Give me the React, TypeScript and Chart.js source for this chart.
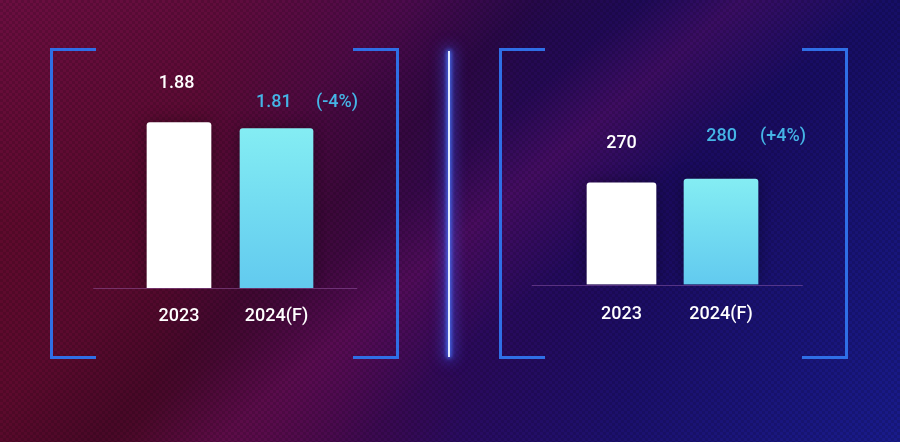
import React, { useEffect, useRef } from "react";
import { Chart, registerables } from "chart.js";

Chart.register(...registerables);

// ---- data ----
const categories = ["2023", "2024(F)"];
const leftValues = [1.88, 1.81];
const rightValues = [270, 280];
const leftChange = "(-4%)";
const rightChange = "(+4%)";
const leftDecimals = 2;
const rightDecimals = 0;
const leftMax = 2.2;
const rightMax = 500;

const FONT = "Roboto, 'Open Sans', sans-serif";
const WEIGHT = 500;
const WHITE = "#ffffff";
const CYAN_TEXT = "#45b5e6";

type PanelCfg = {
  values: number[];
  decimals: number;
  change: string;
  max: number;
  padding: { left: number; right: number; top: number };
  axisHeight: number;
  tickPadding: number;
  barWidths: number[];
  labelOffsets: number[][]; // [dx, dy] relative to bar top center
  changeDx: number;
  baseExt: [number, number];
};

function makeChart(canvas: HTMLCanvasElement, cfg: PanelCfg) {
  const datasets = cfg.values.map((v, i) => ({
    label: categories[i],
    data: cfg.values.map((_, j) => (j === i ? v : null)),
    grouped: false,
    barThickness: cfg.barWidths[i],
    borderRadius: { topLeft: 3, topRight: 3, bottomLeft: 0, bottomRight: 0 },
    borderSkipped: "start",
    backgroundColor:
      i === 0
        ? WHITE
        : (c: any) => {
            const chart = c.chart;
            const y = chart.scales && chart.scales.y;
            if (!y || !chart.chartArea) return "#6fd8f0";
            const top = y.getPixelForValue(v);
            const bottom = y.getPixelForValue(0);
            const g = chart.ctx.createLinearGradient(0, top, 0, bottom);
            g.addColorStop(0, "#84edf3");
            g.addColorStop(0.5, "#72dbf1");
            g.addColorStop(1, "#62caef");
            return g;
          },
  }));

  const decor = {
    id: "decor",
    beforeDatasetsDraw(chart: any) {
      const { ctx, chartArea, scales } = chart;
      const y0 = Math.round(scales.y.getPixelForValue(0)) + 0.5;
      ctx.save();
      ctx.strokeStyle = "rgba(160,100,180,0.45)";
      ctx.lineWidth = 1;
      ctx.beginPath();
      ctx.moveTo(chartArea.left - cfg.baseExt[0], y0);
      ctx.lineTo(chartArea.right + cfg.baseExt[1], y0);
      ctx.stroke();
      ctx.restore();
      ctx.save();
      ctx.shadowColor = "rgba(0,0,0,0.35)";
      ctx.shadowBlur = 16;
    },
    afterDatasetsDraw(chart: any) {
      const { ctx } = chart;
      ctx.restore();
      ctx.save();
      ctx.font = `${WEIGHT} 18px ${FONT}`;
      ctx.textAlign = "center";
      ctx.textBaseline = "middle";
      cfg.values.forEach((v, i) => {
        const bar = chart.getDatasetMeta(i).data[i];
        if (!bar) return;
        const [dx, dy] = cfg.labelOffsets[i];
        ctx.fillStyle = i === 0 ? WHITE : CYAN_TEXT;
        ctx.fillText(v.toFixed(cfg.decimals), bar.x + dx, bar.y - dy);
        if (i === cfg.values.length - 1) {
          ctx.fillText(cfg.change, bar.x + cfg.changeDx, bar.y - dy);
        }
      });
      ctx.restore();
    },
  };

  return new Chart(canvas, {
    type: "bar",
    data: { labels: categories, datasets: datasets as any },
    options: {
      responsive: false,
      animation: false,
      devicePixelRatio: 1,
      layout: {
        padding: { left: cfg.padding.left, right: cfg.padding.right, top: cfg.padding.top, bottom: 0 },
      },
      plugins: { legend: { display: false }, tooltip: { enabled: false } },
      scales: {
        x: {
          display: true,
          offset: true,
          grid: { display: false, drawTicks: false },
          border: { display: false },
          ticks: {
            color: WHITE,
            font: { family: FONT, size: 18, weight: WEIGHT as any },
            padding: cfg.tickPadding,
            maxRotation: 0,
          },
          afterFit: (s: any) => {
            s.height = cfg.axisHeight;
          },
        },
        y: {
          display: false,
          min: 0,
          max: cfg.max,
        },
      },
    },
    plugins: [decor],
  });
}

function Panel({ cfg, left }: { cfg: PanelCfg; left: number }) {
  const ref = useRef<HTMLCanvasElement | null>(null);
  useEffect(() => {
    if (!ref.current) return;
    const ch = makeChart(ref.current, cfg);
    return () => ch.destroy();
  }, []);
  return (
    <canvas
      ref={ref}
      width={450}
      height={442}
      style={{ position: "absolute", left, top: 0, width: 450, height: 442 }}
    />
  );
}

const leftCfg: PanelCfg = {
  values: leftValues,
  decimals: leftDecimals,
  change: leftChange,
  max: leftMax,
  padding: { left: 130.25, right: 124.75, top: 94.3 },
  axisHeight: 154,
  tickPadding: 18,
  barWidths: [64, 73],
  labelOffsets: [
    [-2.3, 39],
    [-2.7, 26],
  ],
  changeDx: 60.5,
  baseExt: [37, 32],
};

const rightCfg: PanelCfg = {
  values: rightValues,
  decimals: rightDecimals,
  change: rightChange,
  max: rightMax,
  padding: { left: 121.75, right: 129.25, top: 96.3 },
  axisHeight: 157.5,
  tickPadding: 19.5,
  barWidths: [69, 74],
  labelOffsets: [
    [0, 39],
    [0.7, 42.5],
  ],
  changeDx: 62,
  baseExt: [40, 32],
};

const BRACKET = "#2f6fe6";

function Bracket({ x, side }: { x: number; side: "l" | "r" }) {
  const b = `3px solid ${BRACKET}`;
  return (
    <div
      style={{
        position: "absolute",
        left: x,
        top: 48,
        width: 46,
        height: 311,
        boxSizing: "border-box",
        borderTop: b,
        borderBottom: b,
        borderLeft: side === "l" ? b : "none",
        borderRight: side === "r" ? b : "none",
      }}
    />
  );
}

export default function App() {
  return (
    <div
      style={{
        position: "fixed",
        left: 0,
        top: 0,
        width: 900,
        height: 442,
        overflow: "hidden",
        background: [
          "repeating-conic-gradient(rgba(0,0,0,0.13) 0% 25%, rgba(0,0,0,0) 0% 50%) 0 0 / 6px 6px",
          "linear-gradient(135deg, rgba(0,0,0,0) 0%, rgba(0,0,0,0) 30%, rgba(0,0,0,0.18) 40%, rgba(0,0,0,0) 52%)",
          "linear-gradient(140deg, rgba(0,0,0,0) 45%, rgba(140,20,110,0.28) 52%, rgba(0,0,0,0) 62%)",
          "linear-gradient(160deg, rgba(120,20,90,0.45) 0%, rgba(120,20,90,0) 30%)",
          "linear-gradient(320deg, rgba(30,40,180,0.45) 0%, rgba(30,40,180,0) 35%)",
          "linear-gradient(100deg, #600a2c 0%, #580a30 22%, #44094c 42%, #2a0a5c 55%, #1b0b5e 72%, #15106a 100%)",
        ].join(", "),
      }}
    >
      <Bracket x={50} side="l" />
      <Bracket x={353} side="r" />
      <Bracket x={499} side="l" />
      <Bracket x={802} side="r" />
      <div
        style={{
          position: "absolute",
          left: 448,
          top: 51,
          width: 2,
          height: 306,
          background: "#dfe8ff",
          boxShadow: "0 0 4px 1px #4a78ff, 0 0 14px 4px rgba(60,90,255,0.55)",
        }}
      />
      <Panel cfg={leftCfg} left={0} />
      <Panel cfg={rightCfg} left={450} />
    </div>
  );
}
